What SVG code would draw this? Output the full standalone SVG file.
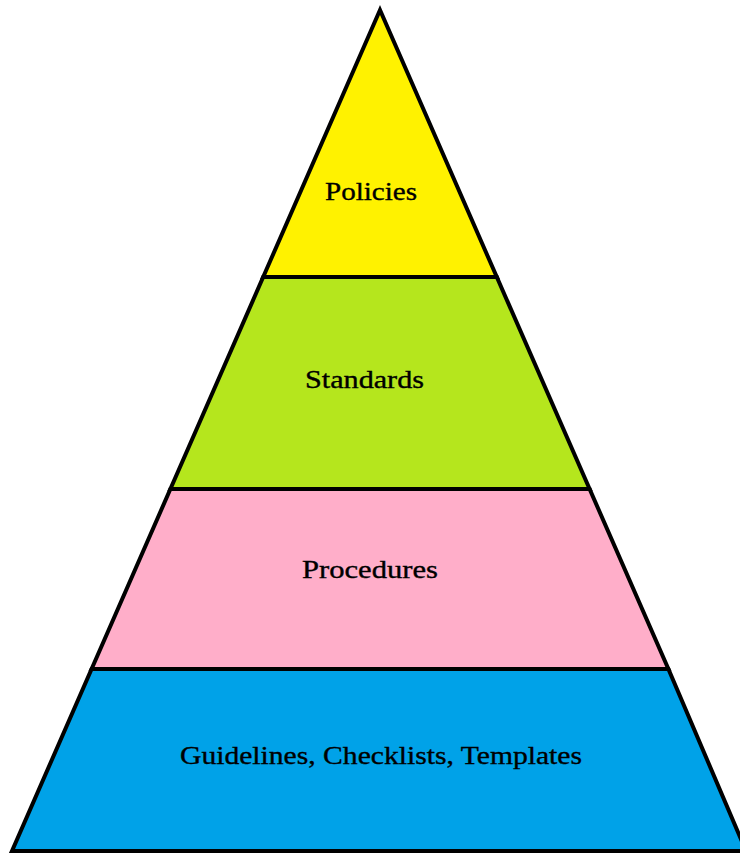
<svg xmlns="http://www.w3.org/2000/svg" width="740" height="855" viewBox="0 0 740 855">
<style>
.band{stroke:#000;stroke-width:4;stroke-linejoin:miter}
.lbl{font-family:"Liberation Serif","Times New Roman",serif;font-size:25px;fill:#000;stroke:#000;stroke-width:0.35}
</style>
<rect width="740" height="855" fill="#fff"/>
<g id="policies">
<polygon class="band" points="380,10 263.2,277 496.8,277" fill="#FFF200"/>
<text class="lbl" x="325" y="200" textLength="92" lengthAdjust="spacingAndGlyphs">Policies</text>
</g>
<g id="standards">
<polygon class="band" points="263.2,277 496.8,277 589.6,489 170.4,489" fill="#B5E61D"/>
<text class="lbl" x="305" y="388" textLength="119" lengthAdjust="spacingAndGlyphs">Standards</text>
</g>
<g id="procedures">
<polygon class="band" points="170.4,489 589.6,489 668.4,669 91.6,669" fill="#FFAEC9"/>
<text class="lbl" x="302" y="578" textLength="136" lengthAdjust="spacingAndGlyphs">Procedures</text>
</g>
<g id="guidelines">
<polygon class="band" points="91.6,669 668.4,669 746,851 12,851" fill="#00A2E8"/>
<text class="lbl" x="180" y="764" textLength="402" lengthAdjust="spacingAndGlyphs">Guidelines, Checklists, Templates</text>
</g>
<g id="connectors"></g>
</svg>
